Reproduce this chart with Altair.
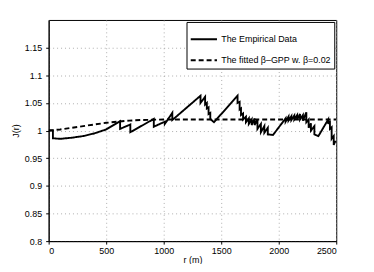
import altair as alt
import pandas as pd

series_names = ["The Empirical Data", "The fitted \u03b2\u2013GPP w. \u03b2=0.02"]

r_emp = [0, 37, 37, 100, 200, 300, 400, 500, 621, 621, 710, 710, 914, 914, 1010, 1010,
         1075, 1075, 1320, 1320, 1360, 1360, 1375, 1375, 1390, 1390, 1405, 1405, 1437,
         1642, 1642, 1660, 1660, 1672, 1672, 1690, 1690, 1715, 1715, 1740, 1740, 1765, 1765,
         1790, 1790, 1815, 1815, 1845, 1845, 1875, 1875, 1905, 1905, 1950,
         2060, 2060, 2085, 2085, 2110, 2110, 2135, 2135, 2160, 2160, 2185, 2185, 2210, 2210,
         2240, 2240, 2260, 2260, 2280, 2280, 2310, 2310, 2345,
         2430, 2430, 2445, 2445, 2460, 2460, 2478, 2478, 2490, 2500]
j_emp = [1.0, 1.0, 0.986, 0.985, 0.987, 0.99, 0.995, 1.002, 1.017, 1.003, 1.011, 0.997, 1.021, 1.007, 1.016, 1.012,
         1.032, 1.019, 1.063, 1.05, 1.061, 1.047, 1.05, 1.04, 1.042, 1.03, 1.032, 1.021, 1.015,
         1.063, 1.05, 1.052, 1.038, 1.04, 1.028, 1.031, 1.02, 1.025, 1.015, 1.022, 1.012, 1.02, 1.01,
         1.022, 1.01, 1.02, 1.003, 1.012, 0.997, 1.008, 0.996, 1.005, 0.993, 0.992,
         1.022, 1.016, 1.025, 1.018, 1.026, 1.019, 1.027, 1.02, 1.028, 1.02, 1.03, 1.02, 1.028, 1.018,
         1.033, 1.015, 1.02, 1.005, 1.013, 1.0, 1.008, 0.993, 0.99,
         1.02, 1.012, 1.018, 1.003, 1.006, 0.985, 0.99, 0.974, 0.98, 0.98]

r_fit = [0, 100, 200, 300, 400, 500, 600, 700, 800, 900, 1000, 1200, 2500]
j_fit = [1.0, 1.002, 1.005, 1.008, 1.011, 1.014, 1.016, 1.018, 1.019, 1.0195, 1.02, 1.02, 1.02]

x_ticks = [0, 500, 1000, 1500, 2000, 2500]
y_ticks = [0.8, 0.85, 0.9, 0.95, 1.0, 1.05, 1.1, 1.15]

rows = []
for i, (r, j) in enumerate(zip(r_emp, j_emp)):
    rows.append({"series": series_names[0], "r": r, "J": j, "idx": i})
for i, (r, j) in enumerate(zip(r_fit, j_fit)):
    rows.append({"series": series_names[1], "r": r, "J": j, "idx": i})
df = pd.DataFrame(rows)

FONT = "Liberation Sans"

chart = alt.Chart(df).mark_line(color="black", strokeWidth=1.9, clip=True).encode(
    x=alt.X("r:Q", title="r (m)",
            scale=alt.Scale(domain=[0, 2500], nice=False, zero=False),
            axis=alt.Axis(values=x_ticks, format="d", labelPadding=2, titlePadding=1)),
    y=alt.Y("J:Q", title="J(r)",
            scale=alt.Scale(domain=[0.8, 1.2], nice=False, zero=False),
            axis=alt.Axis(values=y_ticks, format="~g", labelPadding=4, titlePadding=4)),
    strokeDash=alt.StrokeDash("series:N",
                              scale=alt.Scale(domain=series_names, range=[[1, 0], [5, 3]]),
                              legend=alt.Legend(title=None, orient="none", legendX=139, legendY=2,
                                                strokeColor="black", fillColor="white",
                                                padding=3, symbolType="stroke", symbolSize=700,
                                                symbolStrokeWidth=2, symbolStrokeColor="black",
                                                labelFontSize=9, labelFont=FONT, labelColor="black",
                                                labelOffset=3, rowPadding=1, labelLimit=200)),
    order="idx:Q",
).properties(
    width=290, height=223,
    autosize=alt.AutoSizeParams(type="none"),
    padding={"left": 41, "top": 11, "right": 30, "bottom": 22},
).configure_view(
    stroke="black", strokeWidth=1
).configure_axis(
    grid=True, gridColor="#9a9a9a", gridDash=[1, 3], gridWidth=0.8,
    domainColor="black", ticks=True, tickColor="black", tickSize=3,
    labelFont=FONT, labelFontSize=9, labelColor="black",
    titleFont=FONT, titleFontSize=9, titleFontWeight="normal", titleColor="black",
)

chart.save("out.html", embed_options={"renderer": "svg", "actions": False})
